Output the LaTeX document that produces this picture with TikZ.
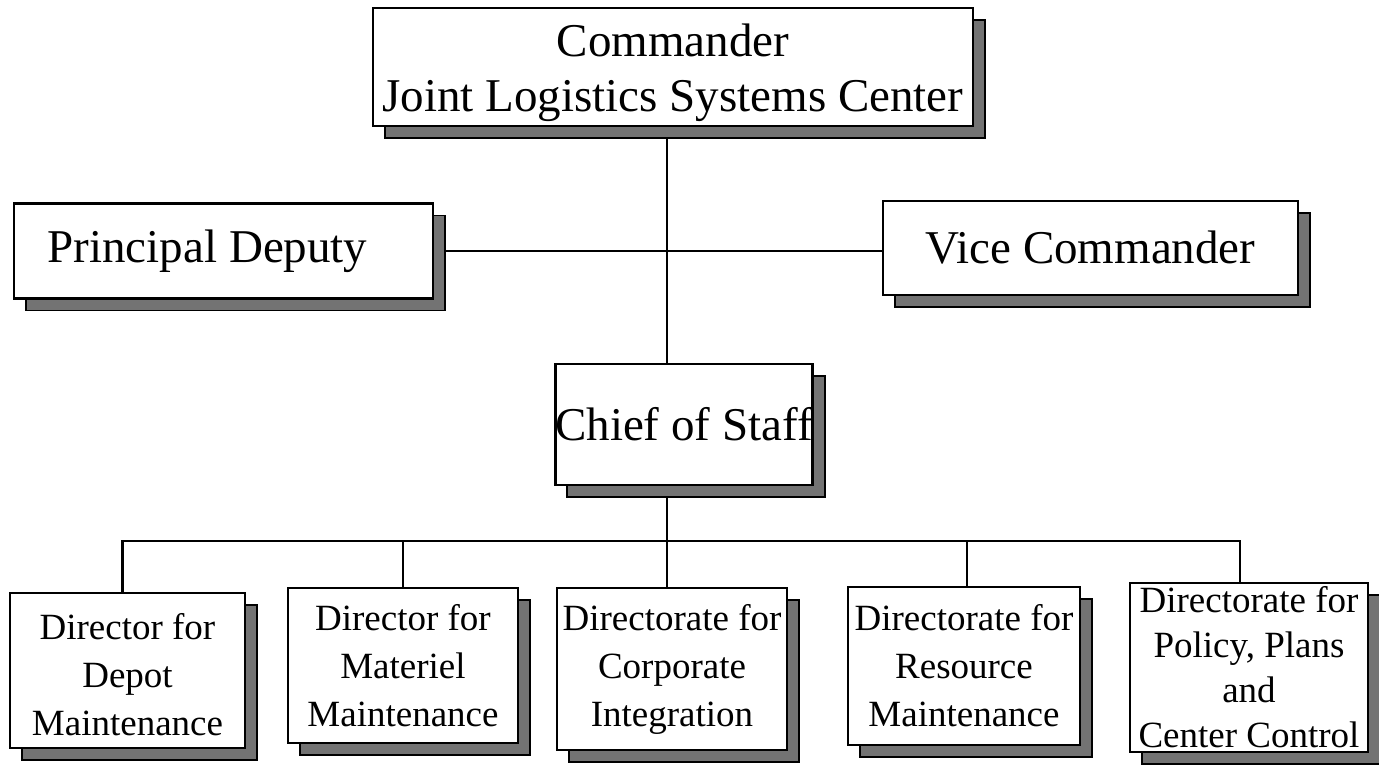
\documentclass[tikz,border=0pt]{standalone}
\usepackage{fontspec}
\setmainfont{Liberation Serif}
\usetikzlibrary{shadows,backgrounds}
\begin{document}
\begin{tikzpicture}[x=1pt,y=-1pt,
  orgbox/.style={draw=black, line width=2.8pt, fill=white, inner sep=0pt, align=center,
    drop shadow={shadow xshift=12pt, shadow yshift=-12pt, opacity=1, fill=black!55, draw=black, line width=1.6pt}},
  big/.style={font=\fontsize{47}{55}\selectfont},
  small/.style={font=\fontsize{37}{48}\selectfont},
  conn/.style={line width=2.8pt}]
\useasboundingbox (0,0) rectangle (1379,766);
\node[orgbox,big, minimum width=600pt, minimum height=118pt] (cmd) at (673,67) {\rule{0pt}{44pt}Commander\\Joint Logistics Systems Center};
\node[orgbox,big, minimum width=419pt, minimum height=95pt] (pd) at (223.5,251) {Principal Deputy\hspace{32pt}};
\node[orgbox,big, minimum width=415pt, minimum height=94pt] (vc) at (1090.5,248) {Vice Commander};
\node[orgbox,big, minimum width=248pt, minimum height=121pt] (cos) at (684,424.5) {Chief of Staff};
\node[orgbox,small, minimum width=235pt, minimum height=155pt] (b1) at (127.5,670.5) {\rule{0pt}{34pt}Director for\\Depot\\Maintenance};
\node[orgbox,small, minimum width=230pt, minimum height=155pt] (b2) at (403,665.5) {Director for\\Materiel\\Maintenance};
\node[orgbox,small, minimum width=230pt, minimum height=162pt] (b3) at (672,669) {Directorate for\\Corporate\\Integration};
\node[orgbox,small, minimum width=232pt, minimum height=158pt] (b4) at (964,666) {Directorate for\\Resource\\Maintenance};
\node[orgbox,font=\fontsize{37}{45}\selectfont, minimum width=238pt, minimum height=169pt] (b5) at (1249,667.5) {Directorate for\\Policy, Plans\\and\\Center Control};
\coordinate (trunk) at (667,250);
\coordinate (bus) at (667,541);
\begin{scope}[on background layer]
\draw[conn] (cmd.south -| trunk) -- (cos.north -| trunk);
\draw[conn] (pd.east) -- (pd.east -| vc.west);
\draw[conn] (cos.south -| bus) -- (bus);
\draw[conn] ([xshift=-5pt]b1.north) |- (bus);
\draw[conn] ([xshift=-9pt]b5.north) |- (bus);
\draw[conn] (b2.north) -- (b2.north |- bus);
\draw[conn] ([xshift=-5pt]b3.north) -- ([xshift=-5pt]b3.north |- bus);
\draw[conn] ([xshift=3pt]b4.north) -- ([xshift=3pt]b4.north |- bus);
\end{scope}
\end{tikzpicture}
\end{document}
